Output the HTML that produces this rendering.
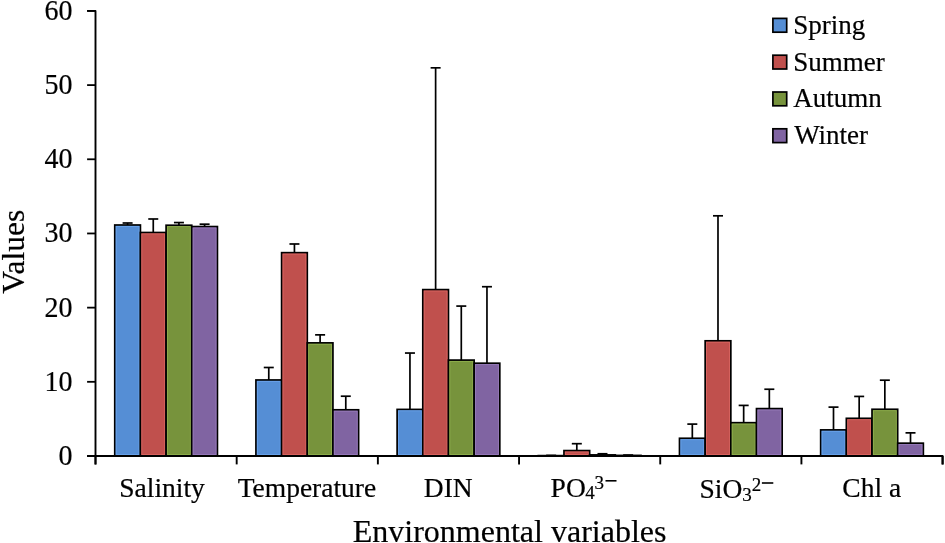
<!DOCTYPE html>
<html><head><meta charset="utf-8"><style>
html,body{margin:0;padding:0;background:#fff;}
body{width:945px;height:543px;overflow:hidden;}
svg{display:block;will-change:transform;}
text{font-family:"Liberation Serif",serif;fill:#000;stroke:#000;stroke-width:0.2px;}
</style></head><body>
<svg width="945" height="543" viewBox="0 0 945 543">
<rect x="0" y="0" width="945" height="543" fill="#fff"/>

<rect x="114.75" y="225.00" width="25.67" height="231.00" fill="#558ED5" stroke="#000" stroke-width="1.7"/>
<rect x="116.15" y="226.40" width="22.87" height="228.20" fill="none" stroke="#6FA8F0" stroke-width="0.9" opacity="0.8"/>
<rect x="140.42" y="232.50" width="25.67" height="223.50" fill="#C0504D" stroke="#000" stroke-width="1.7"/>
<rect x="141.82" y="233.90" width="22.87" height="220.70" fill="none" stroke="#E06A66" stroke-width="0.9" opacity="0.8"/>
<rect x="166.09" y="225.23" width="25.67" height="230.77" fill="#77933C" stroke="#000" stroke-width="1.7"/>
<rect x="167.49" y="226.63" width="22.87" height="227.97" fill="none" stroke="#93B550" stroke-width="0.9" opacity="0.8"/>
<rect x="191.76" y="226.56" width="25.67" height="229.44" fill="#8064A2" stroke="#000" stroke-width="1.7"/>
<rect x="193.16" y="227.96" width="22.87" height="226.64" fill="none" stroke="#9C80C0" stroke-width="0.9" opacity="0.8"/>
<rect x="255.94" y="379.97" width="25.67" height="76.03" fill="#558ED5" stroke="#000" stroke-width="1.7"/>
<rect x="257.34" y="381.37" width="22.87" height="73.23" fill="none" stroke="#6FA8F0" stroke-width="0.9" opacity="0.8"/>
<rect x="281.61" y="252.67" width="25.67" height="203.33" fill="#C0504D" stroke="#000" stroke-width="1.7"/>
<rect x="283.01" y="254.07" width="22.87" height="200.53" fill="none" stroke="#E06A66" stroke-width="0.9" opacity="0.8"/>
<rect x="307.27" y="342.88" width="25.67" height="113.12" fill="#77933C" stroke="#000" stroke-width="1.7"/>
<rect x="308.67" y="344.28" width="22.87" height="110.32" fill="none" stroke="#93B550" stroke-width="0.9" opacity="0.8"/>
<rect x="332.94" y="409.79" width="25.67" height="46.21" fill="#8064A2" stroke="#000" stroke-width="1.7"/>
<rect x="334.34" y="411.19" width="22.87" height="43.41" fill="none" stroke="#9C80C0" stroke-width="0.9" opacity="0.8"/>
<rect x="397.12" y="409.41" width="25.67" height="46.59" fill="#558ED5" stroke="#000" stroke-width="1.7"/>
<rect x="398.52" y="410.81" width="22.87" height="43.79" fill="none" stroke="#6FA8F0" stroke-width="0.9" opacity="0.8"/>
<rect x="422.79" y="289.61" width="25.67" height="166.39" fill="#C0504D" stroke="#000" stroke-width="1.7"/>
<rect x="424.19" y="291.01" width="22.87" height="163.59" fill="none" stroke="#E06A66" stroke-width="0.9" opacity="0.8"/>
<rect x="448.46" y="360.09" width="25.67" height="95.91" fill="#77933C" stroke="#000" stroke-width="1.7"/>
<rect x="449.86" y="361.49" width="22.87" height="93.11" fill="none" stroke="#93B550" stroke-width="0.9" opacity="0.8"/>
<rect x="474.13" y="363.20" width="25.67" height="92.80" fill="#8064A2" stroke="#000" stroke-width="1.7"/>
<rect x="475.53" y="364.60" width="22.87" height="90.00" fill="none" stroke="#9C80C0" stroke-width="0.9" opacity="0.8"/>
<rect x="538.30" y="455.63" width="25.67" height="0.37" fill="#558ED5" stroke="#000" stroke-width="1.7"/>
<rect x="563.97" y="450.58" width="25.67" height="5.42" fill="#C0504D" stroke="#000" stroke-width="1.7"/>
<rect x="565.37" y="451.98" width="22.87" height="2.62" fill="none" stroke="#E06A66" stroke-width="0.9" opacity="0.8"/>
<rect x="589.64" y="454.89" width="25.67" height="1.11" fill="#77933C" stroke="#000" stroke-width="1.7"/>
<rect x="615.31" y="455.41" width="25.67" height="0.59" fill="#8064A2" stroke="#000" stroke-width="1.7"/>
<rect x="679.49" y="438.27" width="25.67" height="17.73" fill="#558ED5" stroke="#000" stroke-width="1.7"/>
<rect x="680.89" y="439.67" width="22.87" height="14.93" fill="none" stroke="#6FA8F0" stroke-width="0.9" opacity="0.8"/>
<rect x="705.16" y="340.80" width="25.67" height="115.20" fill="#C0504D" stroke="#000" stroke-width="1.7"/>
<rect x="706.56" y="342.20" width="22.87" height="112.40" fill="none" stroke="#E06A66" stroke-width="0.9" opacity="0.8"/>
<rect x="730.83" y="422.69" width="25.67" height="33.31" fill="#77933C" stroke="#000" stroke-width="1.7"/>
<rect x="732.23" y="424.09" width="22.87" height="30.51" fill="none" stroke="#93B550" stroke-width="0.9" opacity="0.8"/>
<rect x="756.49" y="408.60" width="25.67" height="47.40" fill="#8064A2" stroke="#000" stroke-width="1.7"/>
<rect x="757.89" y="410.00" width="22.87" height="44.60" fill="none" stroke="#9C80C0" stroke-width="0.9" opacity="0.8"/>
<rect x="820.67" y="429.89" width="25.67" height="26.11" fill="#558ED5" stroke="#000" stroke-width="1.7"/>
<rect x="822.07" y="431.29" width="22.87" height="23.31" fill="none" stroke="#6FA8F0" stroke-width="0.9" opacity="0.8"/>
<rect x="846.34" y="418.32" width="25.67" height="37.68" fill="#C0504D" stroke="#000" stroke-width="1.7"/>
<rect x="847.74" y="419.72" width="22.87" height="34.88" fill="none" stroke="#E06A66" stroke-width="0.9" opacity="0.8"/>
<rect x="872.01" y="409.27" width="25.67" height="46.73" fill="#77933C" stroke="#000" stroke-width="1.7"/>
<rect x="873.41" y="410.67" width="22.87" height="43.93" fill="none" stroke="#93B550" stroke-width="0.9" opacity="0.8"/>
<rect x="897.68" y="443.17" width="25.67" height="12.83" fill="#8064A2" stroke="#000" stroke-width="1.7"/>
<rect x="899.08" y="444.57" width="22.87" height="10.03" fill="none" stroke="#9C80C0" stroke-width="0.9" opacity="0.8"/>
<line x1="127.59" y1="225.00" x2="127.59" y2="223.00" stroke="#000" stroke-width="1.7"/>
<line x1="122.59" y1="223.00" x2="132.59" y2="223.00" stroke="#000" stroke-width="1.7"/>
<line x1="153.26" y1="232.50" x2="153.26" y2="218.99" stroke="#000" stroke-width="1.7"/>
<line x1="148.26" y1="218.99" x2="158.26" y2="218.99" stroke="#000" stroke-width="1.7"/>
<line x1="178.93" y1="225.23" x2="178.93" y2="222.56" stroke="#000" stroke-width="1.7"/>
<line x1="173.93" y1="222.56" x2="183.93" y2="222.56" stroke="#000" stroke-width="1.7"/>
<line x1="204.60" y1="226.56" x2="204.60" y2="224.19" stroke="#000" stroke-width="1.7"/>
<line x1="199.60" y1="224.19" x2="209.60" y2="224.19" stroke="#000" stroke-width="1.7"/>
<line x1="268.77" y1="379.97" x2="268.77" y2="367.50" stroke="#000" stroke-width="1.7"/>
<line x1="263.77" y1="367.50" x2="273.77" y2="367.50" stroke="#000" stroke-width="1.7"/>
<line x1="294.44" y1="252.67" x2="294.44" y2="243.99" stroke="#000" stroke-width="1.7"/>
<line x1="289.44" y1="243.99" x2="299.44" y2="243.99" stroke="#000" stroke-width="1.7"/>
<line x1="320.11" y1="342.88" x2="320.11" y2="334.86" stroke="#000" stroke-width="1.7"/>
<line x1="315.11" y1="334.86" x2="325.11" y2="334.86" stroke="#000" stroke-width="1.7"/>
<line x1="345.78" y1="409.79" x2="345.78" y2="396.21" stroke="#000" stroke-width="1.7"/>
<line x1="340.78" y1="396.21" x2="350.78" y2="396.21" stroke="#000" stroke-width="1.7"/>
<line x1="409.95" y1="409.41" x2="409.95" y2="353.04" stroke="#000" stroke-width="1.7"/>
<line x1="404.95" y1="353.04" x2="414.95" y2="353.04" stroke="#000" stroke-width="1.7"/>
<line x1="435.62" y1="289.61" x2="435.62" y2="67.82" stroke="#000" stroke-width="1.7"/>
<line x1="430.62" y1="67.82" x2="440.62" y2="67.82" stroke="#000" stroke-width="1.7"/>
<line x1="461.29" y1="360.09" x2="461.29" y2="306.08" stroke="#000" stroke-width="1.7"/>
<line x1="456.29" y1="306.08" x2="466.29" y2="306.08" stroke="#000" stroke-width="1.7"/>
<line x1="486.96" y1="363.20" x2="486.96" y2="286.72" stroke="#000" stroke-width="1.7"/>
<line x1="481.96" y1="286.72" x2="491.96" y2="286.72" stroke="#000" stroke-width="1.7"/>
<line x1="551.14" y1="455.63" x2="551.14" y2="455.41" stroke="#000" stroke-width="1.7"/>
<line x1="546.14" y1="455.41" x2="556.14" y2="455.41" stroke="#000" stroke-width="1.7"/>
<line x1="576.81" y1="450.58" x2="576.81" y2="443.69" stroke="#000" stroke-width="1.7"/>
<line x1="571.81" y1="443.69" x2="581.81" y2="443.69" stroke="#000" stroke-width="1.7"/>
<line x1="602.48" y1="454.89" x2="602.48" y2="453.77" stroke="#000" stroke-width="1.7"/>
<line x1="597.48" y1="453.77" x2="607.48" y2="453.77" stroke="#000" stroke-width="1.7"/>
<line x1="628.15" y1="455.41" x2="628.15" y2="455.04" stroke="#000" stroke-width="1.7"/>
<line x1="623.15" y1="455.04" x2="633.15" y2="455.04" stroke="#000" stroke-width="1.7"/>
<line x1="692.32" y1="438.27" x2="692.32" y2="424.10" stroke="#000" stroke-width="1.7"/>
<line x1="687.32" y1="424.10" x2="697.32" y2="424.10" stroke="#000" stroke-width="1.7"/>
<line x1="717.99" y1="340.80" x2="717.99" y2="215.81" stroke="#000" stroke-width="1.7"/>
<line x1="712.99" y1="215.81" x2="722.99" y2="215.81" stroke="#000" stroke-width="1.7"/>
<line x1="743.66" y1="422.69" x2="743.66" y2="405.41" stroke="#000" stroke-width="1.7"/>
<line x1="738.66" y1="405.41" x2="748.66" y2="405.41" stroke="#000" stroke-width="1.7"/>
<line x1="769.33" y1="408.60" x2="769.33" y2="389.24" stroke="#000" stroke-width="1.7"/>
<line x1="764.33" y1="389.24" x2="774.33" y2="389.24" stroke="#000" stroke-width="1.7"/>
<line x1="833.50" y1="429.89" x2="833.50" y2="407.12" stroke="#000" stroke-width="1.7"/>
<line x1="828.50" y1="407.12" x2="838.50" y2="407.12" stroke="#000" stroke-width="1.7"/>
<line x1="859.17" y1="418.32" x2="859.17" y2="396.43" stroke="#000" stroke-width="1.7"/>
<line x1="854.17" y1="396.43" x2="864.17" y2="396.43" stroke="#000" stroke-width="1.7"/>
<line x1="884.84" y1="409.27" x2="884.84" y2="380.19" stroke="#000" stroke-width="1.7"/>
<line x1="879.84" y1="380.19" x2="889.84" y2="380.19" stroke="#000" stroke-width="1.7"/>
<line x1="910.51" y1="443.17" x2="910.51" y2="432.86" stroke="#000" stroke-width="1.7"/>
<line x1="905.51" y1="432.86" x2="915.51" y2="432.86" stroke="#000" stroke-width="1.7"/>
<path d="M87.1 10.92 H95.5 V464.4" fill="none" stroke="#000" stroke-width="1.9" stroke-linejoin="round"/>
<path d="M87.1 456.0 H942.6 V464.4" fill="none" stroke="#000" stroke-width="2" stroke-linejoin="round"/>
<line x1="87.1" y1="456.00" x2="95.5" y2="456.00" stroke="#000" stroke-width="1.8"/>
<text transform="translate(72.5,465.00) scale(1,1.06)" font-size="28" text-anchor="end">0</text>
<line x1="87.1" y1="381.82" x2="95.5" y2="381.82" stroke="#000" stroke-width="1.8"/>
<text transform="translate(72.5,390.82) scale(1,1.06)" font-size="28" text-anchor="end">10</text>
<line x1="87.1" y1="307.64" x2="95.5" y2="307.64" stroke="#000" stroke-width="1.8"/>
<text transform="translate(72.5,316.64) scale(1,1.06)" font-size="28" text-anchor="end">20</text>
<line x1="87.1" y1="233.46" x2="95.5" y2="233.46" stroke="#000" stroke-width="1.8"/>
<text transform="translate(72.5,242.46) scale(1,1.06)" font-size="28" text-anchor="end">30</text>
<line x1="87.1" y1="159.28" x2="95.5" y2="159.28" stroke="#000" stroke-width="1.8"/>
<text transform="translate(72.5,168.28) scale(1,1.06)" font-size="28" text-anchor="end">40</text>
<line x1="87.1" y1="85.10" x2="95.5" y2="85.10" stroke="#000" stroke-width="1.8"/>
<text transform="translate(72.5,94.10) scale(1,1.06)" font-size="28" text-anchor="end">50</text>
<line x1="87.1" y1="10.92" x2="95.5" y2="10.92" stroke="#000" stroke-width="1.8"/>
<text transform="translate(72.5,19.92) scale(1,1.06)" font-size="28" text-anchor="end">60</text>
<line x1="95.50" y1="456.0" x2="95.50" y2="464.4" stroke="#000" stroke-width="1.9"/>
<line x1="236.68" y1="456.0" x2="236.68" y2="464.4" stroke="#000" stroke-width="1.9"/>
<line x1="377.87" y1="456.0" x2="377.87" y2="464.4" stroke="#000" stroke-width="1.9"/>
<line x1="519.05" y1="456.0" x2="519.05" y2="464.4" stroke="#000" stroke-width="1.9"/>
<line x1="660.23" y1="456.0" x2="660.23" y2="464.4" stroke="#000" stroke-width="1.9"/>
<line x1="801.42" y1="456.0" x2="801.42" y2="464.4" stroke="#000" stroke-width="1.9"/>
<line x1="942.60" y1="456.0" x2="942.60" y2="464.4" stroke="#000" stroke-width="1.9"/>
<text x="119.26" y="497.3" font-size="27.5">Salinity</text>
<text x="237.70" y="497.3" font-size="27.5">Temperature</text>
<text x="423.80" y="497.3" font-size="27.5">DIN</text>
<text x="550.60" y="497.3" font-size="27.5">PO</text>
<text x="585.3" y="499.3" font-size="19">4</text>
<text x="594.5" y="489.1" font-size="19">3</text>
<rect x="605.5" y="480.0" width="11" height="1.6" fill="#000"/>
<text x="699.56" y="498.3" font-size="27.5">SiO</text>
<text x="742.2" y="501.1" font-size="19">3</text>
<text x="751.8" y="490.6" font-size="19">2</text>
<rect x="761.9" y="482.2" width="11.4" height="1.6" fill="#000"/>
<text x="842.37" y="497.3" font-size="27.5">Chl a</text>
<text x="352.77" y="541.7" font-size="32">Environmental variables</text>
<text transform="translate(23.9,251.65) rotate(-90)" x="0" y="0" font-size="31.5" text-anchor="middle">Values</text>
<rect x="772.9" y="18.40" width="13.8" height="13.8" fill="#558ED5" stroke="#000" stroke-width="1.7"/>
<text x="793.2" y="33.80" font-size="27">Spring</text>
<rect x="772.9" y="55.20" width="13.8" height="13.8" fill="#C0504D" stroke="#000" stroke-width="1.7"/>
<text x="793.2" y="70.60" font-size="27">Summer</text>
<rect x="772.9" y="92.00" width="13.8" height="13.8" fill="#77933C" stroke="#000" stroke-width="1.7"/>
<text x="793.2" y="107.40" font-size="27">Autumn</text>
<rect x="772.9" y="128.80" width="13.8" height="13.8" fill="#8064A2" stroke="#000" stroke-width="1.7"/>
<text x="794.2" y="144.20" font-size="27">Winter</text>
</svg>
</body></html>
